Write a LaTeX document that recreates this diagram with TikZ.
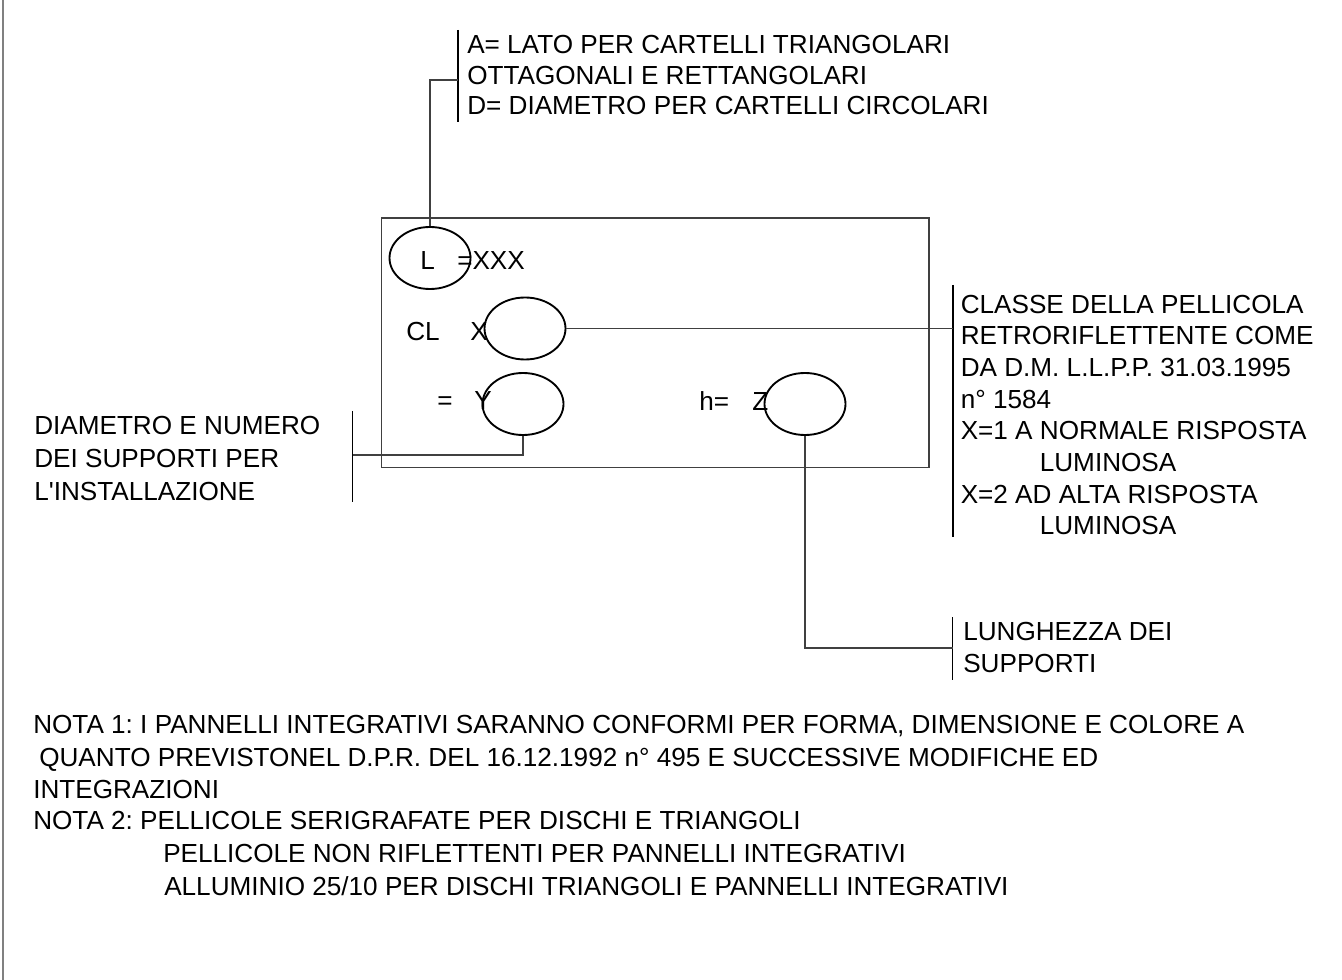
\documentclass[tikz,border=0pt]{standalone}
\usepackage{fontspec}
\newfontfamily\cartfont{Liberation Sans}
\usetikzlibrary{shapes.geometric}
\frenchspacing

\tikzset{
  lbl/.style={inner sep=0pt,anchor=base west},
  blk/.style={inner sep=0pt,anchor=north west,align=left},
  oval/.style={draw,ellipse,line width=1.4pt,inner sep=0pt,
    minimum width=60.75pt,minimum height=46.5pt},
  lead/.style={line width=0.8pt,black!75},
  bar/.style={line width=1pt}
}

\begin{document}
\begin{tikzpicture}[x=0.75pt,y=-0.75pt,font=\cartfont\fontsize{19.6}{23.75}\selectfont]
    \useasboundingbox (0,0) rectangle (1342,980);
    \draw[black!50,line width=1.5pt] (3,0) -- (3,980);

    % cartello
    \draw[lead] (381.5,218) rectangle (929,467.5);

    \node[lbl] (tL) at (420,269.5) {L};
    \node[lbl] (tXXX) at (457,269.5) {=XXX};
    \node[lbl] (tCL) at (406,340.7) {CL};
    \node[lbl] (tX) at (470,340.7) {X};
    \node[lbl] (tEq) at (437,410) {=};
    \node[lbl] (tY) at (474,410) {Y};
    \node[lbl] (tH) at (699,410.5) {h=};
    \node[lbl] (tZ) at (752,410.5) {Z};

    \node[oval] (ovL) at (430,258) {};
    \node[oval] (ovX) at (525,328.5) {};
    \node[oval] (ovY) at (523,404) {};
    \node[oval] (ovZ) at (805,404) {};

    % richiami
    \coordinate (barTa) at (458,30);
    \coordinate (barTb) at (458,122);
    \coordinate (jTop) at (458,80);
    \coordinate (barRa) at (953,285);
    \coordinate (barRb) at (953,537);
    \coordinate (jR) at (953,328.5);
    \coordinate (barLa) at (352.5,411);
    \coordinate (barLb) at (352.5,501.5);
    \coordinate (jL) at (352.5,455);
    \coordinate (barBa) at (952.5,617);
    \coordinate (barBb) at (952.5,680);
    \coordinate (jB) at (952.5,648);

    \draw[bar] (barTa) -- (barTb);
    \draw[bar] (barRa) -- (barRb);
    \draw[bar] (barLa) -- (barLb);
    \draw[bar] (barBa) -- (barBb);

    \draw[lead] (ovL.north) |- (jTop);
    \draw[lead] (ovX.east) -- (jR);
    \draw[lead] (ovY.south) |- (jL);
    \draw[lead] (ovZ.south) |- (jB);

    \node[blk,font=\cartfont\fontsize{19.6}{22.9}\selectfont] (lato) at (467,35.2)
        {A= LATO PER CARTELLI TRIANGOLARI\\OTTAGONALI E RETTANGOLARI\\D= DIAMETRO PER CARTELLI CIRCOLARI};
    \node[blk] (classe) at (960.5,294.5)
        {CLASSE DELLA PELLICOLA\\RETRORIFLETTENTE COME\\DA D.M. L.L.P.P. 31.03.1995\\n° 1584\\
         X=1 A NORMALE RISPOSTA\\\hspace*{59.3pt}LUMINOSA\\X=2 AD ALTA RISPOSTA\\\hspace*{59.3pt}LUMINOSA};
    \node[blk,font=\cartfont\fontsize{19.6}{24.75}\selectfont] (supporti) at (34,415.5)
        {DIAMETRO E NUMERO\\DEI SUPPORTI PER\\L'INSTALLAZIONE};
    \node[blk,font=\cartfont\fontsize{19.6}{24.4}\selectfont] (lunghezza) at (963,621.5)
        {LUNGHEZZA DEI\\SUPPORTI};

    % note
    \node[lbl] (nota1) at (33,733) {NOTA 1: I PANNELLI INTEGRATIVI SARANNO CONFORMI PER FORMA, DIMENSIONE E COLORE A};
    \node[lbl] (nota1b) at (39,766) {QUANTO PREVISTONEL D.P.R. DEL 16.12.1992 n° 495 E SUCCESSIVE MODIFICHE ED};
    \node[lbl] (nota1c) at (33,798) {INTEGRAZIONI};
    \node[lbl] (nota2) at (33,829.5) {NOTA 2: PELLICOLE SERIGRAFATE PER DISCHI E TRIANGOLI};
    \node[lbl] (nota2b) at (163,862.5) {PELLICOLE NON RIFLETTENTI PER PANNELLI INTEGRATIVI};
    \node[lbl] (nota2c) at (164,895) {ALLUMINIO 25/10 PER DISCHI TRIANGOLI E PANNELLI INTEGRATIVI};
\end{tikzpicture}
\end{document}
